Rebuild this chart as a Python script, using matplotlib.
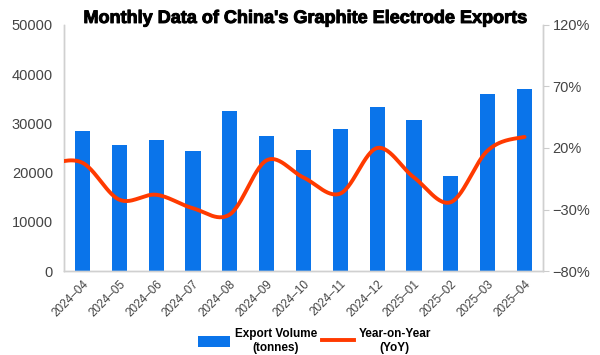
import numpy as np
import matplotlib.pyplot as plt
import matplotlib.patheffects as pe
from matplotlib.lines import Line2D
from matplotlib.patches import Patch

months = ["2024–04", "2024–05", "2024–06", "2024–07", "2024–08", "2024–09", "2024–10",
          "2024–11", "2024–12", "2025–01", "2025–02", "2025–03", "2025–04"]
export_volume = [28450, 25600, 26600, 24300, 32500, 27500, 24600,
                 28900, 33300, 30700, 19400, 36000, 37000]
yoy = [8, -22, -18, -29, -34, 10, -4, -17, 20, -4, -24, 18, 29]
yoy_prev = 7  # month before the first one, only its tail shows at the left edge

BLUE = "#0A74EA"
RED = "#FF3A00"
GRAY = "#444444"


def catmull_rom(xs, ys, n=30):
    xs = np.asarray(xs, float)
    ys = np.asarray(ys, float)
    px = np.concatenate([[2 * xs[0] - xs[1]], xs, [2 * xs[-1] - xs[-2]]])
    py = np.concatenate([[ys[0]], ys, [ys[-1]]])
    out_x, out_y = [], []
    t = np.linspace(0, 1, n)
    for i in range(1, len(px) - 2):
        for arr, out in ((px, out_x), (py, out_y)):
            p0, p1, p2, p3 = arr[i - 1], arr[i], arr[i + 1], arr[i + 2]
            seg = 0.5 * (2 * p1 + (-p0 + p2) * t + (2 * p0 - 5 * p1 + 4 * p2 - p3) * t ** 2
                         + (-p0 + 3 * p1 - 3 * p2 + p3) * t ** 3)
            out.extend(seg)
    return np.array(out_x), np.array(out_y)


fig = plt.figure(figsize=(6, 3.55), dpi=100)
ax = fig.add_axes([0.1067, 0.2366, 0.7983, 0.693])
ax2 = ax.twinx()

x = np.arange(len(months))
ax.bar(x, export_volume, width=0.41, color=BLUE, zorder=2)
ax.set_xlim(-0.5, len(months) - 0.5)
ax.set_ylim(0, 50000)
ax.set_yticks(range(0, 50001, 10000))
ax.set_xticks(x)
ax.set_xticklabels(months, rotation=45, ha="right", rotation_mode="anchor",
                   fontsize=8.5, color=GRAY, family="Liberation Sans")
ax.tick_params(axis="x", length=0, pad=5)
ax.tick_params(axis="y", length=0, labelsize=10.5, labelcolor=GRAY, pad=8)
for lab in ax.get_yticklabels():
    lab.set_family("Liberation Sans")

lx, ly = catmull_rom(np.concatenate([[-1], x]), [yoy_prev] + yoy)
ax2.plot(lx, ly, color=RED, lw=2.8, solid_capstyle="round", zorder=3)
ax2.set_ylim(-80, 120)
ax2.set_yticks([-80, -30, 20, 70, 120])
ax2.set_yticklabels(["−80%", "−30%", "20%", "70%", "120%"], family="Liberation Sans")
ax2.tick_params(axis="y", length=4, color="#cccccc", labelsize=10.5, labelcolor=GRAY, pad=3)

for a in (ax, ax2):
    a.spines["top"].set_visible(False)
    for s in ("left", "right", "bottom"):
        a.spines[s].set_color("#d0d0d0")
        a.spines[s].set_linewidth(1)

ax.set_zorder(ax2.get_zorder() - 1)
ax2.patch.set_visible(False)

title = fig.text(0.508, 0.948, "Monthly Data of China's Graphite Electrode Exports",
                 ha="center", va="center", fontsize=13, fontweight="bold",
                 family="Liberation Sans")
title.set_path_effects([pe.withStroke(linewidth=0.7, foreground="black")])

handles = [Patch(facecolor=BLUE, edgecolor="none"),
           Line2D([0], [0], color=RED, lw=2.8)]
leg = fig.legend(handles, ["Export Volume\n(tonnes)", "Year-on-Year\n(YoY)"],
                 loc="center", bbox_to_anchor=(0.524, 0.04), ncol=2, frameon=False,
                 prop={"family": "Liberation Sans", "weight": "bold", "size": 8.5},
                 handlelength=2.7, handleheight=1.1, columnspacing=0.4, handletextpad=0.4)
for t in leg.get_texts():
    t.set_multialignment("center")

fig.savefig("out.png", dpi=100)
